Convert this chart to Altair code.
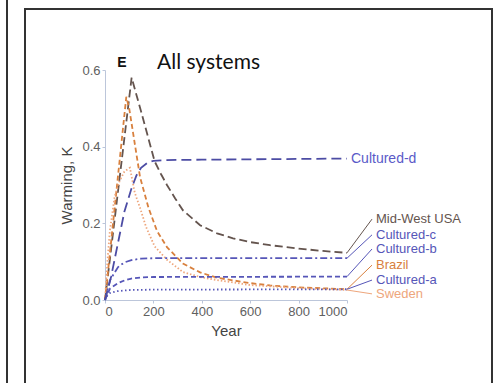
import altair as alt
import pandas as pd

# Warming (K) over time for each production system
series_names = ["Mid-West USA", "Brazil", "Sweden",
                "Cultured-a", "Cultured-b", "Cultured-c", "Cultured-d"]

midwest_years = [0, 110, 130, 150, 180, 205, 230, 256, 290, 322, 393, 463, 529, 600, 682, 800, 900, 1000]
midwest_warming = [0.0, 0.58, 0.535, 0.49, 0.42, 0.362, 0.33, 0.30, 0.265, 0.234, 0.195, 0.174, 0.161, 0.151, 0.143, 0.134, 0.128, 0.123]

brazil_years = [0, 88, 100, 120, 145, 180, 215, 256, 322, 393, 463, 600, 682, 800, 1000]
brazil_warming = [0.0, 0.53, 0.50, 0.42, 0.32, 0.24, 0.18, 0.138, 0.095, 0.072, 0.058, 0.044, 0.038, 0.033, 0.028]

sweden_years = [0, 10, 20, 40, 60, 80, 103, 123, 145, 170, 205, 256, 322, 393, 463, 600, 800, 1000]
sweden_warming = [0.0, 0.10, 0.18, 0.27, 0.31, 0.335, 0.345, 0.28, 0.24, 0.19, 0.14, 0.105, 0.073, 0.060, 0.052, 0.039, 0.031, 0.026]

cult_a_years = [0, 10, 20, 50, 100, 200, 1000]
cult_a_warming = [0.0, 0.012, 0.018, 0.023, 0.026, 0.027, 0.028]

cult_b_years = [0, 21, 54, 80, 109, 150, 200, 1000]
cult_b_warming = [0.0, 0.030, 0.044, 0.051, 0.056, 0.059, 0.060, 0.061]

cult_c_years = [0, 21, 54, 80, 109, 150, 200, 1000]
cult_c_warming = [0.0, 0.052, 0.086, 0.098, 0.104, 0.108, 0.109, 0.109]

cult_d_years = [0, 25, 54, 80, 109, 130, 149, 175, 200, 250, 400, 600, 800, 1000]
cult_d_warming = [0.0, 0.06, 0.15, 0.23, 0.29, 0.325, 0.345, 0.358, 0.363, 0.365, 0.366, 0.367, 0.368, 0.369]

# Label anchors (K) for the right-hand annotations
label_names = ["Cultured-d", "Mid-West USA", "Cultured-c", "Cultured-b", "Brazil", "Cultured-a", "Sweden"]
label_at = [0.368, 0.211, 0.170, 0.133, 0.091, 0.052, 0.016]

years_by_series = [midwest_years, brazil_years, sweden_years,
                   cult_a_years, cult_b_years, cult_c_years, cult_d_years]
warming_by_series = [midwest_warming, brazil_warming, sweden_warming,
                     cult_a_warming, cult_b_warming, cult_c_warming, cult_d_warming]

rows = []
for name, ys, ws in zip(series_names, years_by_series, warming_by_series):
    for yr, w in zip(ys, ws):
        rows.append({"series": name, "year": yr, "warming": w})
lines_df = pd.DataFrame(rows)

end_value = {name: ws[-1] for name, ws in zip(series_names, warming_by_series)}
labels_df = pd.DataFrame({
    "series": label_names,
    "label_y": label_at,
    "end_x": [1000] * len(label_names),
    "end_y": [end_value[n] for n in label_names],
})

line_colors = ["#64544e", "#d8803e", "#eea67c", "#5656b8", "#5656b8", "#5656b8", "#4c4ca4"]
line_dash = [[8, 4], [5, 3], [1.5, 2], [1.5, 2.5], [5, 3], [7, 3, 2, 3], [10, 5]]
line_width = [1.8, 1.8, 1.5, 1.5, 1.6, 1.6, 1.9]

label_colors = {"Mid-West USA": "#8c6c52", "Brazil": "#e0884a", "Sweden": "#f0a050",
                "Cultured-a": "#5a5ac8", "Cultured-b": "#5a5ac8", "Cultured-c": "#5a5ac8",
                "Cultured-d": "#5a5ac8"}
leader_colors = {"Mid-West USA": "#b4bc94", "Brazil": "#c8a468", "Sweden": "#f0a868",
                 "Cultured-a": "#9494e0", "Cultured-b": "#9494e0", "Cultured-c": "#9494e0",
                 "Cultured-d": "#9494e0"}

x_scale = alt.Scale(domain=[0, 1000], nice=False, zero=False)
y_scale = alt.Scale(domain=[0, 0.6], nice=False)

lines = alt.Chart(lines_df).mark_line(clip=False).encode(
    x=alt.X("year:Q", scale=x_scale,
            axis=alt.Axis(values=[0, 200, 400, 600, 800, 1000], format="d", title="Year",
                          titlePadding=5)),
    y=alt.Y("warming:Q", scale=y_scale,
            axis=alt.Axis(values=[0, 0.2, 0.4, 0.6], format=".1f", title="Warming, K",
                          titlePadding=7)),
    color=alt.Color("series:N", scale=alt.Scale(domain=series_names, range=line_colors), legend=None),
    strokeDash=alt.StrokeDash("series:N", scale=alt.Scale(domain=series_names, range=line_dash), legend=None),
    strokeWidth=alt.StrokeWidth("series:N", scale=alt.Scale(domain=series_names, range=line_width), legend=None),
)

leader_df = labels_df[labels_df["series"] != "Cultured-d"]
leaders = alt.Chart(leader_df).mark_rule(strokeWidth=1).encode(
    x=alt.X("end_x:Q", scale=x_scale),
    y=alt.Y("end_y:Q", scale=y_scale),
    x2=alt.value(267),
    y2="label_y:Q",
    color=alt.Color("series:N", scale=alt.Scale(domain=list(leader_colors.keys()),
                                                range=list(leader_colors.values())), legend=None),
)

side_labels = alt.Chart(leader_df).mark_text(
    align="left", baseline="middle", fontSize=13, font="Liberation Sans"
).encode(
    x=alt.value(271),
    y=alt.Y("label_y:Q", scale=y_scale),
    text="series:N",
    color=alt.Color("series:N", scale=alt.Scale(domain=list(label_colors.keys()),
                                                range=list(label_colors.values())), legend=None),
)

d_label = alt.Chart(labels_df[labels_df["series"] == "Cultured-d"]).mark_text(
    align="left", baseline="middle", fontSize=14, font="Liberation Sans", color="#5a5ac8"
).encode(
    x=alt.value(246),
    y=alt.Y("label_y:Q", scale=y_scale),
    text="series:N",
)

one = pd.DataFrame({"k": [0]})
panel_letter = alt.Chart(one).mark_text(
    text="E", fontSize=14, fontWeight="bold", font="Liberation Sans", color="#111",
    align="center", baseline="middle"
).encode(x=alt.value(17), y=alt.value(-7))

panel_title = alt.Chart(one).mark_text(
    text="All systems", fontSize=21, font="Lato", color="#111",
    align="left", baseline="middle"
).encode(x=alt.value(52), y=alt.value(-7))

frame = alt.Chart(one).mark_rect(filled=False, stroke="#333333", strokeWidth=2).encode(
    x=alt.value(-80), x2=alt.value(387), y=alt.value(-61), y2=alt.value(330)
)
neighbour_edge = alt.Chart(one).mark_rule(color="#333333", strokeWidth=2).encode(
    x=alt.value(-98), y=alt.value(-80), y2=alt.value(330)
)

chart = alt.layer(
    frame, neighbour_edge, lines, leaders, side_labels, d_label, panel_letter, panel_title
).properties(
    width=242, height=230,
    padding={"left": 105, "top": 70, "right": 152, "bottom": 83},
    autosize=alt.AutoSizeParams(type="none"),
    background="white",
).configure_view(stroke=None).configure_axis(
    grid=False,
    domainColor="#bcc6da",
    tickColor="#bcc6da",
    tickSize=3,
    labelColor="#606060",
    labelFont="Liberation Sans",
    labelFontSize=13,
    titleFont="Liberation Sans",
    titleFontSize=15,
    titleFontWeight="normal",
    titleColor="#444444",
)

chart.save("out.html", embed_options={"renderer": "svg", "actions": False})
